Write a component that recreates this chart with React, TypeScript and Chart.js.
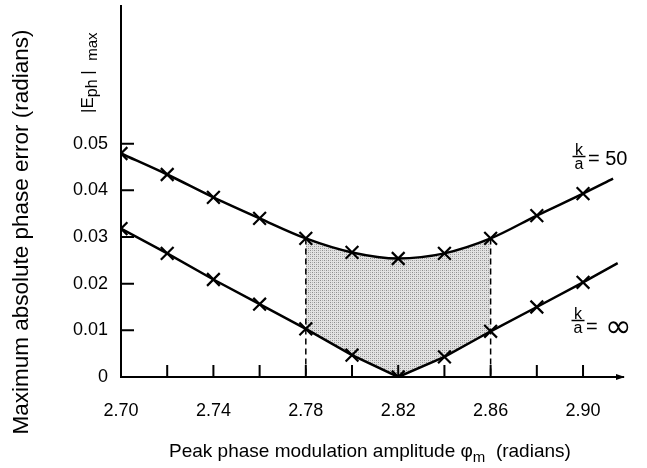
import React, { useEffect, useRef } from "react";
import { Chart, registerables } from "chart.js";

Chart.register(...registerables);

// ---- data ----
const xValues = [2.7, 2.72, 2.74, 2.76, 2.78, 2.8, 2.82, 2.84, 2.86, 2.88, 2.9];
const upperK50 = [0.0479, 0.0434, 0.0385, 0.034, 0.0297, 0.0267, 0.0254, 0.0265, 0.0297, 0.0346, 0.0393];
const lowerKInf = [0.0318, 0.0265, 0.0209, 0.0156, 0.0103, 0.0047, 0.0, 0.0043, 0.0098, 0.015, 0.0203];
const upperEnd = { x: 2.913, y: 0.0425 };
const lowerEnd = { x: 2.915, y: 0.0244 };
const shadeFrom = 2.78;
const shadeTo = 2.86;
const xTickLabels = [2.7, 2.74, 2.78, 2.82, 2.86, 2.9];
const xTickMarks = [2.72, 2.74, 2.76, 2.78, 2.8, 2.82, 2.84, 2.86, 2.88, 2.9];
const yTickLabels = [0, 0.01, 0.02, 0.03, 0.04, 0.05];
const yTitle = "Maximum absolute phase error (radians)";
const xTitleMain = "Peak phase modulation amplitude φ";
const xTitleSub = "m";
const xTitleTail = "  (radians)";

const FONT = '"Liberation Sans", Arial, Helvetica, sans-serif';

function makePattern(): CanvasPattern | string {
  const c = document.createElement("canvas");
  c.width = 4;
  c.height = 4;
  const g = c.getContext("2d");
  if (!g) return "#cccccc";
  g.fillStyle = "#e2e2e2";
  g.fillRect(0, 0, 4, 4);
  g.fillStyle = "#8c8c8c";
  g.fillRect(0, 0, 1, 1);
  g.fillRect(2, 2, 1, 1);
  g.fillStyle = "#b0b0b0";
  g.fillRect(2, 0, 1, 1);
  g.fillRect(0, 2, 1, 1);
  const p = g.createPattern(c, "repeat");
  return p || "#cccccc";
}

const decorPlugin = {
  id: "decor",
  afterDraw(chart: any) {
    const ctx: CanvasRenderingContext2D = chart.ctx;
    const xs = chart.scales.x;
    const ys = chart.scales.y;
    const area = chart.chartArea;
    ctx.save();
    ctx.strokeStyle = "#000";
    ctx.fillStyle = "#000";
    ctx.lineWidth = 2;
    // inward tick marks
    const y0 = ys.getPixelForValue(0);
    const x0 = xs.getPixelForValue(xs.min);
    ctx.beginPath();
    xTickMarks.forEach((v) => {
      const px = xs.getPixelForValue(v);
      ctx.moveTo(px, y0);
      ctx.lineTo(px, y0 - 12);
    });
    yTickLabels.forEach((v) => {
      if (v === 0) return;
      const py = ys.getPixelForValue(v);
      ctx.moveTo(x0, py);
      ctx.lineTo(x0 + 13, py);
    });
    // y axis continues slightly above the plotting range
    ctx.moveTo(area.left, area.top + 1);
    ctx.lineTo(area.left, 5);
    ctx.stroke();
    // arrow at end of x axis
    ctx.beginPath();
    ctx.moveTo(area.right + 2, y0);
    ctx.lineTo(area.right - 7, y0 - 3);
    ctx.lineTo(area.right - 7, y0 + 3);
    ctx.closePath();
    ctx.fill();

    // y title
    ctx.save();
    ctx.translate(22, 232);
    ctx.rotate(-Math.PI / 2);
    ctx.font = `22.5px ${FONT}`;
    ctx.textAlign = "center";
    ctx.textBaseline = "middle";
    ctx.fillText(yTitle, 0, 0);
    ctx.restore();

    // |E_ph| max
    ctx.save();
    ctx.translate(93, 113);
    ctx.rotate(-Math.PI / 2);
    ctx.textAlign = "left";
    ctx.textBaseline = "alphabetic";
    let cx = 0;
    const parts: [string, number, number][] = [
      ["|E", 17, 0],
      ["ph", 16, 4],
      [" |  ", 17, 0],
      ["max", 15, 4],
    ];
    parts.forEach(([t, s, dy]) => {
      ctx.font = `${s}px ${FONT}`;
      ctx.fillText(t, cx, dy);
      cx += ctx.measureText(t).width;
    });
    ctx.restore();

    // x title
    ctx.textAlign = "left";
    ctx.textBaseline = "alphabetic";
    let tx = 169;
    ctx.font = `19px ${FONT}`;
    ctx.fillText(xTitleMain, tx, 457);
    tx += ctx.measureText(xTitleMain).width;
    ctx.font = `15px ${FONT}`;
    ctx.fillText(xTitleSub, tx, 462);
    tx += ctx.measureText(xTitleSub).width;
    ctx.font = `19px ${FONT}`;
    ctx.fillText(xTitleTail, tx, 457);

    // k/a labels
    const drawFrac = (xc: number, barY: number) => {
      ctx.font = `16px ${FONT}`;
      ctx.textAlign = "center";
      ctx.textBaseline = "alphabetic";
      ctx.fillText("k", xc, barY - 2);
      ctx.fillText("a", xc, barY + 12);
      ctx.lineWidth = 1.5;
      ctx.beginPath();
      ctx.moveTo(xc - 6.5, barY);
      ctx.lineTo(xc + 6.5, barY);
      ctx.stroke();
    };
    drawFrac(579, 156.5);
    ctx.textAlign = "left";
    ctx.font = `20px ${FONT}`;
    ctx.fillText("= 50", 588, 165);
    drawFrac(578, 320.5);
    ctx.textAlign = "left";
    ctx.font = `20px ${FONT}`;
    ctx.fillText("=", 586, 333);
    ctx.font = `32px "DejaVu Sans", ${FONT}`;
    ctx.fillText("∞", 605, 337);
    ctx.restore();
  },
};

export default function App() {
  const ref = useRef<HTMLCanvasElement | null>(null);

  useEffect(() => {
    if (!ref.current) return;
    const pattern = makePattern();
    const upperPts = xValues.map((x, i) => ({ x, y: upperK50[i] })).concat([upperEnd]);
    const lowerPts = xValues.map((x, i) => ({ x, y: lowerKInf[i] })).concat([lowerEnd]);
    const radii = xValues.map(() => 9).concat([0]);
    const inShade = (x: number) => x >= shadeFrom - 1e-9 && x <= shadeTo + 1e-9;
    const upperShade = xValues.map((x, i) => ({ x, y: upperK50[i] })).filter((p) => inShade(p.x));
    const lowerShade = xValues.map((x, i) => ({ x, y: lowerKInf[i] })).filter((p) => inShade(p.x));
    const iFrom = xValues.findIndex((x) => Math.abs(x - shadeFrom) < 1e-9);
    const iTo = xValues.findIndex((x) => Math.abs(x - shadeTo) < 1e-9);

    const base = {
      showLine: true,
      borderColor: "#000",
      backgroundColor: "#000",
      fill: false,
    };

    const chart = new Chart(ref.current, {
      type: "scatter",
      data: {
        datasets: [
          {
            ...base,
            label: "k/a = 50",
            data: upperPts,
            borderWidth: 2.5,
            cubicInterpolationMode: "monotone",
            pointStyle: "crossRot",
            pointRadius: radii,
            pointBorderWidth: 2.2,
            pointBorderColor: "#000",
            order: 1,
          },
          {
            ...base,
            label: "k/a = ∞",
            data: lowerPts,
            borderWidth: 2.5,
            tension: 0,
            pointStyle: "crossRot",
            pointRadius: radii,
            pointBorderWidth: 2.2,
            pointBorderColor: "#000",
            order: 1,
          },
          {
            ...base,
            label: "left bound",
            data: [
              { x: shadeFrom, y: upperK50[iFrom] },
              { x: shadeFrom, y: 0 },
            ],
            borderWidth: 1.5,
            borderDash: [6, 4],
            pointRadius: 0,
            order: 2,
          },
          {
            ...base,
            label: "right bound",
            data: [
              { x: shadeTo, y: upperK50[iTo] },
              { x: shadeTo, y: 0 },
            ],
            borderWidth: 1.5,
            borderDash: [6, 4],
            pointRadius: 0,
            order: 2,
          },
          {
            label: "shade top",
            data: upperShade,
            showLine: true,
            borderWidth: 0,
            borderColor: "rgba(0,0,0,0)",
            backgroundColor: pattern as any,
            cubicInterpolationMode: "monotone",
            pointRadius: 0,
            fill: "+1",
            order: 10,
          },
          {
            label: "shade bottom",
            data: lowerShade,
            showLine: true,
            borderWidth: 0,
            borderColor: "rgba(0,0,0,0)",
            pointRadius: 0,
            fill: false,
            order: 10,
          },
        ],
      },
      options: {
        responsive: false,
        animation: false,
        events: [],
        layout: { padding: { left: 0, top: 0, right: 24, bottom: 0 } },
        plugins: {
          legend: { display: false },
          tooltip: { enabled: false },
          title: { display: false },
        },
        scales: {
          x: {
            type: "linear",
            min: 2.7,
            max: 2.9173,
            afterFit: (s: any) => {
              s.height = 91;
              s.paddingLeft = 0;
              s.paddingRight = 0;
            },
            afterBuildTicks: (s: any) => {
              s.ticks = xTickLabels.map((v) => ({ value: v }));
            },
            grid: { display: true, drawOnChartArea: false, drawTicks: false },
            border: { display: true, color: "#000", width: 2 },
            ticks: {
              autoSkip: false,
              maxRotation: 0,
              padding: 23,
              color: "#000",
              font: { size: 18, family: FONT },
              callback: (v: any) => Number(v).toFixed(2),
            },
          },
          y: {
            type: "linear",
            min: 0,
            max: 0.0784,
            afterFit: (s: any) => {
              s.width = 121;
              s.paddingTop = 0;
              s.paddingBottom = 0;
            },
            afterBuildTicks: (s: any) => {
              s.ticks = yTickLabels.map((v) => ({ value: v }));
            },
            grid: { display: true, drawOnChartArea: false, drawTicks: false },
            border: { display: true, color: "#000", width: 2 },
            ticks: {
              autoSkip: false,
              padding: 13,
              color: "#000",
              font: { size: 18, family: FONT },
              callback: (v: any) => (Number(v) === 0 ? "0" : Number(v).toFixed(2)),
            },
          },
        },
      },
      plugins: [decorPlugin],
    } as any);
    return () => chart.destroy();
  }, []);

  return (
    <div style={{ position: "fixed", left: 0, top: 0, width: 647, height: 468, background: "#fff" }}>
      <canvas ref={ref} width={647} height={468} style={{ display: "block" }} />
    </div>
  );
}
